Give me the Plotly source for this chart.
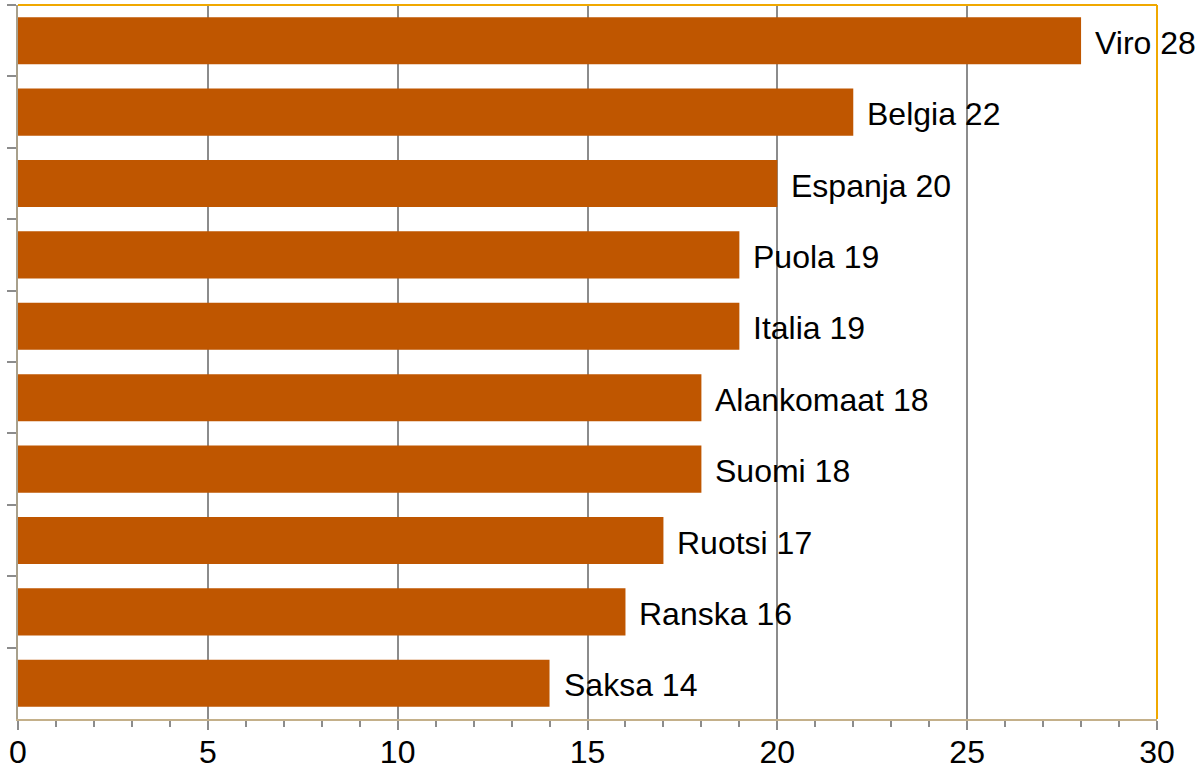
import plotly.graph_objects as go

countries = ["Viro", "Belgia", "Espanja", "Puola", "Italia", "Alankomaat", "Suomi", "Ruotsi", "Ranska", "Saksa"]
values = [28, 22, 20, 19, 19, 18, 18, 17, 16, 14]
x_ticks = [0, 5, 10, 15, 20, 25, 30]

BAR = "#BF5600"
FONT = "Liberation Sans, Arial, sans-serif"

fig = go.Figure()
fig.add_trace(go.Bar(
    x=values, y=countries, orientation="h",
    marker=dict(color=BAR, line=dict(width=0)),
    width=0.66,
    hoverinfo="skip",
))

for c, v in zip(countries, values):
    fig.add_annotation(
        x=v, y=c, xref="x", yref="y",
        text=f"{c} {v}", showarrow=False,
        xanchor="left", yanchor="middle", xshift=12, yshift=-2,
        font=dict(family=FONT, size=32, color="#000000"),
    )

fig.update_layout(
    width=1202, height=772,
    margin=dict(l=18, r=45, t=5, b=53),
    paper_bgcolor="white", plot_bgcolor="white",
    showlegend=False,
    bargap=0.34,
    xaxis=dict(
        range=[0, 30], tickvals=x_ticks, ticktext=[str(t) for t in x_ticks],
        showgrid=True, gridcolor="#8C8C8C", gridwidth=1.5,
        zeroline=False,
        showline=True, linecolor="#C4B08A", linewidth=2,
        ticks="outside", ticklen=9, tickwidth=2, tickcolor="#8C8C8C",
        ticklabelstandoff=-5,
        minor=dict(dtick=1, ticks="outside", ticklen=6, tickwidth=2, tickcolor="#8C8C8C", showgrid=False),
        tickfont=dict(family=FONT, size=32, color="#000000"),
        automargin=False,
        fixedrange=True,
    ),
    yaxis=dict(
        autorange="reversed",
        showticklabels=False,
        showgrid=False, zeroline=False,
        showline=True, linecolor="#A8A08C", linewidth=2,
        ticks="outside", tickson="boundaries", ticklen=9, tickwidth=2, tickcolor="#8C8C8C",
        automargin=False,
        fixedrange=True,
    ),
    shapes=[
        dict(type="line", xref="paper", yref="paper", x0=0, x1=1, y0=1, y1=1,
             line=dict(color="#F0A800", width=2)),
        dict(type="line", xref="paper", yref="paper", x0=1, x1=1, y0=0, y1=1,
             line=dict(color="#F0A800", width=2)),
    ],
)

fig.write_html("out.html", config={"displayModeBar": False},
               post_script="document.body.style.margin='0';document.body.style.overflow='hidden';")
